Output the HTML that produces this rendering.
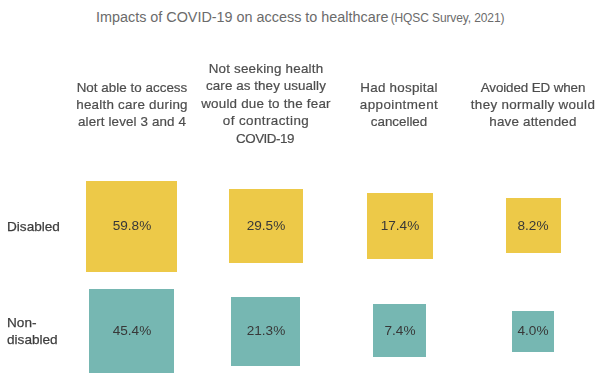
<!DOCTYPE html>
<html><head><meta charset="utf-8">
<style>
html,body{margin:0;padding:0;background:#fff;}
body{width:600px;height:383px;position:relative;overflow:hidden;font-family:"Liberation Sans",sans-serif;}
.hl,.val,.lbl{will-change:transform;}
#title{position:absolute;white-space:nowrap;left:96px;top:9px;font-size:14.39px;color:#6b6b6b;line-height:17px;}
#sub{position:absolute;white-space:nowrap;left:390.7px;top:10.0px;font-size:12px;letter-spacing:-0.114px;color:#6b6b6b;line-height:17px;}
.hl{position:absolute;width:300px;text-align:center;font-size:13.4px;line-height:17.35px;color:#4d4d4d;-webkit-text-stroke:0.2px #4d4d4d;white-space:nowrap;}
.sq{position:absolute;}
.val{position:absolute;width:100px;text-align:center;font-size:13.6px;line-height:17px;color:#383838;white-space:nowrap;}
.y{background:#EDC948;}
.g{background:#76B7B2;}
.lbl{position:absolute;left:7px;font-size:13.6px;line-height:17px;color:#3d3d3d;-webkit-text-stroke:0.25px #3d3d3d;white-space:nowrap;}
</style></head>
<body>
<div id="title">Impacts of COVID-19 on access to healthcare</div><div id="sub">(HQSC Survey, 2021)</div>
<div class="hl" style="left:-18.29px;top:78.60px;letter-spacing:0.026px">Not able to access</div>
<div class="hl" style="left:-18.18px;top:95.80px;letter-spacing:0.240px">health care during</div>
<div class="hl" style="left:-18.24px;top:113.00px;letter-spacing:0.123px">alert level 3 and 4</div>
<div class="hl" style="left:115.60px;top:59.95px;letter-spacing:0.208px">Not seeking health</div>
<div class="hl" style="left:115.54px;top:77.45px;letter-spacing:0.074px">care as they usually</div>
<div class="hl" style="left:115.61px;top:94.95px;letter-spacing:0.214px">would due to the fear</div>
<div class="hl" style="left:115.71px;top:112.45px;letter-spacing:0.419px">of contracting</div>
<div class="hl" style="left:115.26px;top:129.95px;letter-spacing:-0.488px">COVID-19</div>
<div class="hl" style="left:249.22px;top:78.60px;letter-spacing:0.238px">Had hospital</div>
<div class="hl" style="left:249.31px;top:95.80px;letter-spacing:0.415px">appointment</div>
<div class="hl" style="left:249.09px;top:113.00px;letter-spacing:-0.016px">cancelled</div>
<div class="hl" style="left:383.04px;top:78.60px;letter-spacing:-0.116px">Avoided ED when</div>
<div class="hl" style="left:383.26px;top:95.80px;letter-spacing:0.315px">they normally would</div>
<div class="hl" style="left:383.19px;top:113.00px;letter-spacing:0.185px">have attended</div>
<div class="lbl" style="top:218px;">Disabled</div>
<div class="lbl" style="top:314px;">Non-<br>disabled</div>
<div class="sq y" style="left:86px;top:181px;width:91px;height:91px;"></div>
<div class="sq y" style="left:229px;top:189px;width:74px;height:74px;"></div>
<div class="sq y" style="left:367px;top:193px;width:66px;height:66px;"></div>
<div class="sq y" style="left:506px;top:198px;width:55px;height:55px;"></div>
<div class="sq g" style="left:89px;top:289px;width:85px;height:84px;"></div>
<div class="sq g" style="left:231px;top:297px;width:69px;height:69px;"></div>
<div class="sq g" style="left:373px;top:304px;width:53px;height:53px;"></div>
<div class="sq g" style="left:512px;top:311px;width:42px;height:41px;"></div>
<div class="val" style="left:81.70px;top:217.40px">59.8%</div>
<div class="val" style="left:215.60px;top:217.40px">29.5%</div>
<div class="val" style="left:349.70px;top:217.40px">17.4%</div>
<div class="val" style="left:483.30px;top:217.40px">8.2%</div>
<div class="val" style="left:81.70px;top:322.00px">45.4%</div>
<div class="val" style="left:215.60px;top:322.00px">21.3%</div>
<div class="val" style="left:349.70px;top:322.00px">7.4%</div>
<div class="val" style="left:483.30px;top:322.00px">4.0%</div>
</body></html>
